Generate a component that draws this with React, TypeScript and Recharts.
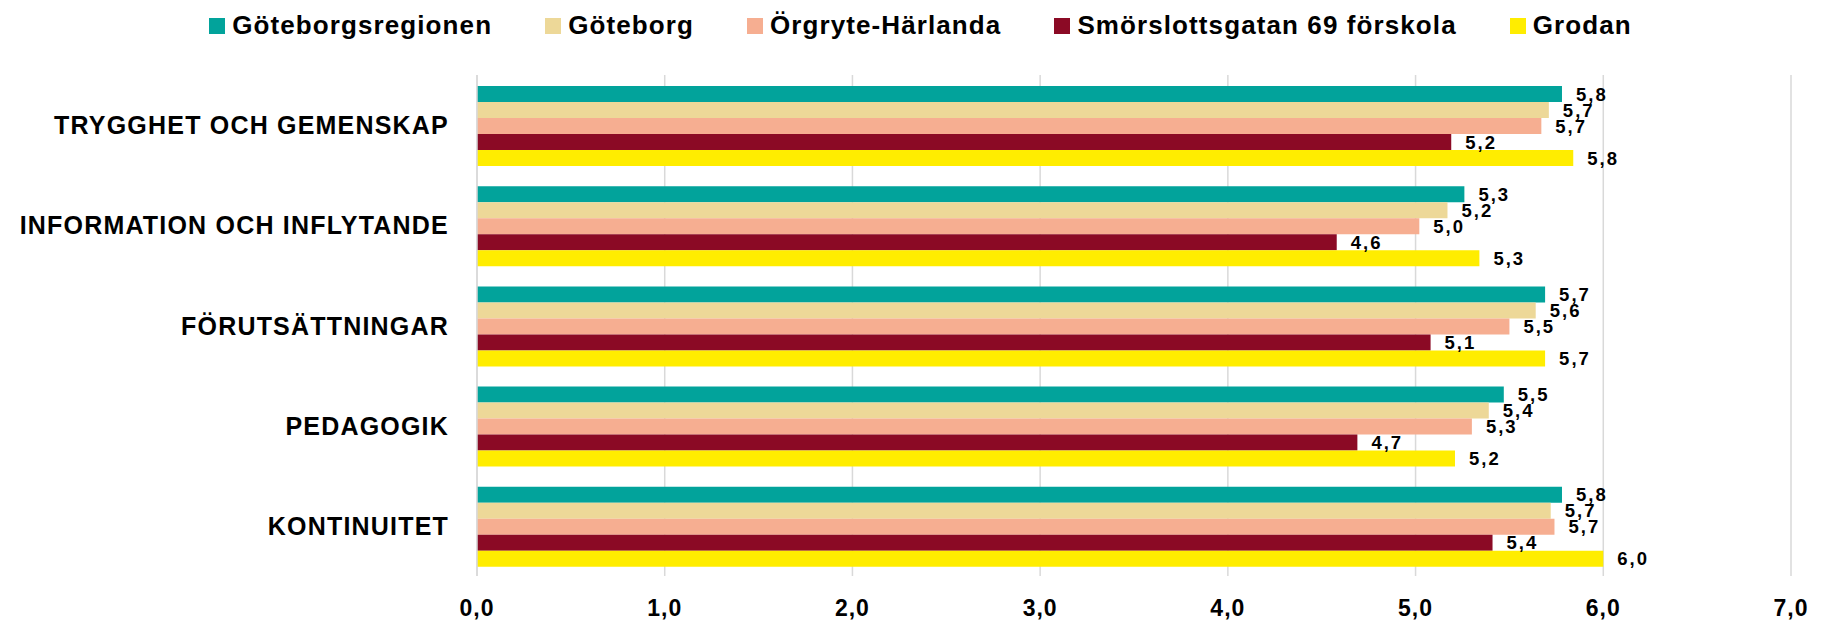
import { BarChart, Bar, XAxis, YAxis, CartesianGrid, LabelList } from "recharts";

const categories = [
  "TRYGGHET OCH GEMENSKAP",
  "INFORMATION OCH INFLYTANDE",
  "FÖRUTSÄTTNINGAR",
  "PEDAGOGIK",
  "KONTINUITET",
];

const goteborgsregionen = [5.78, 5.26, 5.69, 5.47, 5.78];
const goteborg = [5.71, 5.17, 5.64, 5.39, 5.72];
const orgryteHarlanda = [5.67, 5.02, 5.5, 5.3, 5.74];
const smorslottsgatan = [5.19, 4.58, 5.08, 4.69, 5.41];
const grodan = [5.84, 5.34, 5.69, 5.21, 6.0];

const xTicks = [0, 1, 2, 3, 4, 5, 6, 7];

const series = [
  { key: "reg", name: "Göteborgsregionen", values: goteborgsregionen, color: "#02A39B" },
  { key: "gbg", name: "Göteborg", values: goteborg, color: "#EDD898" },
  { key: "org", name: "Örgryte-Härlanda", values: orgryteHarlanda, color: "#F6AE91" },
  { key: "smo", name: "Smörslottsgatan 69 förskola", values: smorslottsgatan, color: "#8B0A25" },
  { key: "gro", name: "Grodan", values: grodan, color: "#FFED00" },
];

const data = categories.map((cat, i) => {
  const row: Record<string, string | number> = { name: cat };
  series.forEach((s) => {
    row[s.key] = s.values[i];
  });
  return row;
});

const FONT = "'Liberation Sans', Arial, sans-serif";
const fmt = (v: number) => v.toFixed(1).replace(".", ",");

function CategoryTick(props: any) {
  const { x, y, payload } = props;
  return (
    <text
      x={x - 28}
      y={y}
      textAnchor="end"
      dominantBaseline="central"
      fontFamily={FONT}
      fontWeight="bold"
      fontSize={25}
      letterSpacing={1.2}
      fill="#000"
    >
      {payload.value}
    </text>
  );
}

function ValueTick(props: any) {
  const { x, y, payload } = props;
  return (
    <text
      x={x}
      y={y + 32}
      textAnchor="middle"
      dominantBaseline="central"
      fontFamily={FONT}
      fontWeight="bold"
      fontSize={23}
      letterSpacing={1}
      fill="#000"
    >
      {fmt(payload.value)}
    </text>
  );
}

function Legend() {
  return (
    <div
      style={{
        position: "absolute",
        left: 6,
        top: 10,
        width: 1829,
        display: "flex",
        justifyContent: "center",
        gap: 53,
        fontFamily: FONT,
        fontWeight: "bold",
        fontSize: 26,
        letterSpacing: 1.1,
        color: "#000",
      }}
    >
      {series.map((s) => (
        <div key={s.key} style={{ display: "flex", alignItems: "center", gap: 7 }}>
          <span style={{ width: 16, height: 16, background: s.color, display: "inline-block" }} />
          <span>{s.name}</span>
        </div>
      ))}
    </div>
  );
}

export default function App() {
  return (
    <div style={{ position: "absolute", left: 0, top: 0, width: 1829, height: 620, background: "#fff" }}>
      <Legend />
      <BarChart
        width={1829}
        height={620}
        data={data}
        layout="vertical"
        margin={{ top: 75, right: 38, left: 0, bottom: 0 }}
        barCategoryGap={11}
        barGap={0}
      >
        <CartesianGrid horizontal={false} stroke="#D9D9D9" strokeWidth={1.5} />
        <XAxis
          type="number"
          domain={[0, 7]}
          ticks={xTicks}
          axisLine={false}
          tickLine={false}
          tickSize={0}
          tickMargin={0}
          height={44}
          tick={<ValueTick />}
        />
        <YAxis
          type="category"
          dataKey="name"
          width={477}
          axisLine={{ stroke: "#D9D9D9", strokeWidth: 1.5 }}
          tickLine={false}
          tickSize={0}
          tickMargin={0}
          tick={<CategoryTick />}
        />
        {series.map((s) => (
          <Bar key={s.key} dataKey={s.key} name={s.name} fill={s.color} isAnimationActive={false}>
            <LabelList
              dataKey={s.key}
              position="right"
              offset={14}
              formatter={(v: any) => fmt(Number(v))}
              style={{ fontFamily: FONT, fontWeight: "bold", fontSize: 18.5, letterSpacing: 2, fill: "#000" }}
            />
          </Bar>
        ))}
      </BarChart>
    </div>
  );
}
